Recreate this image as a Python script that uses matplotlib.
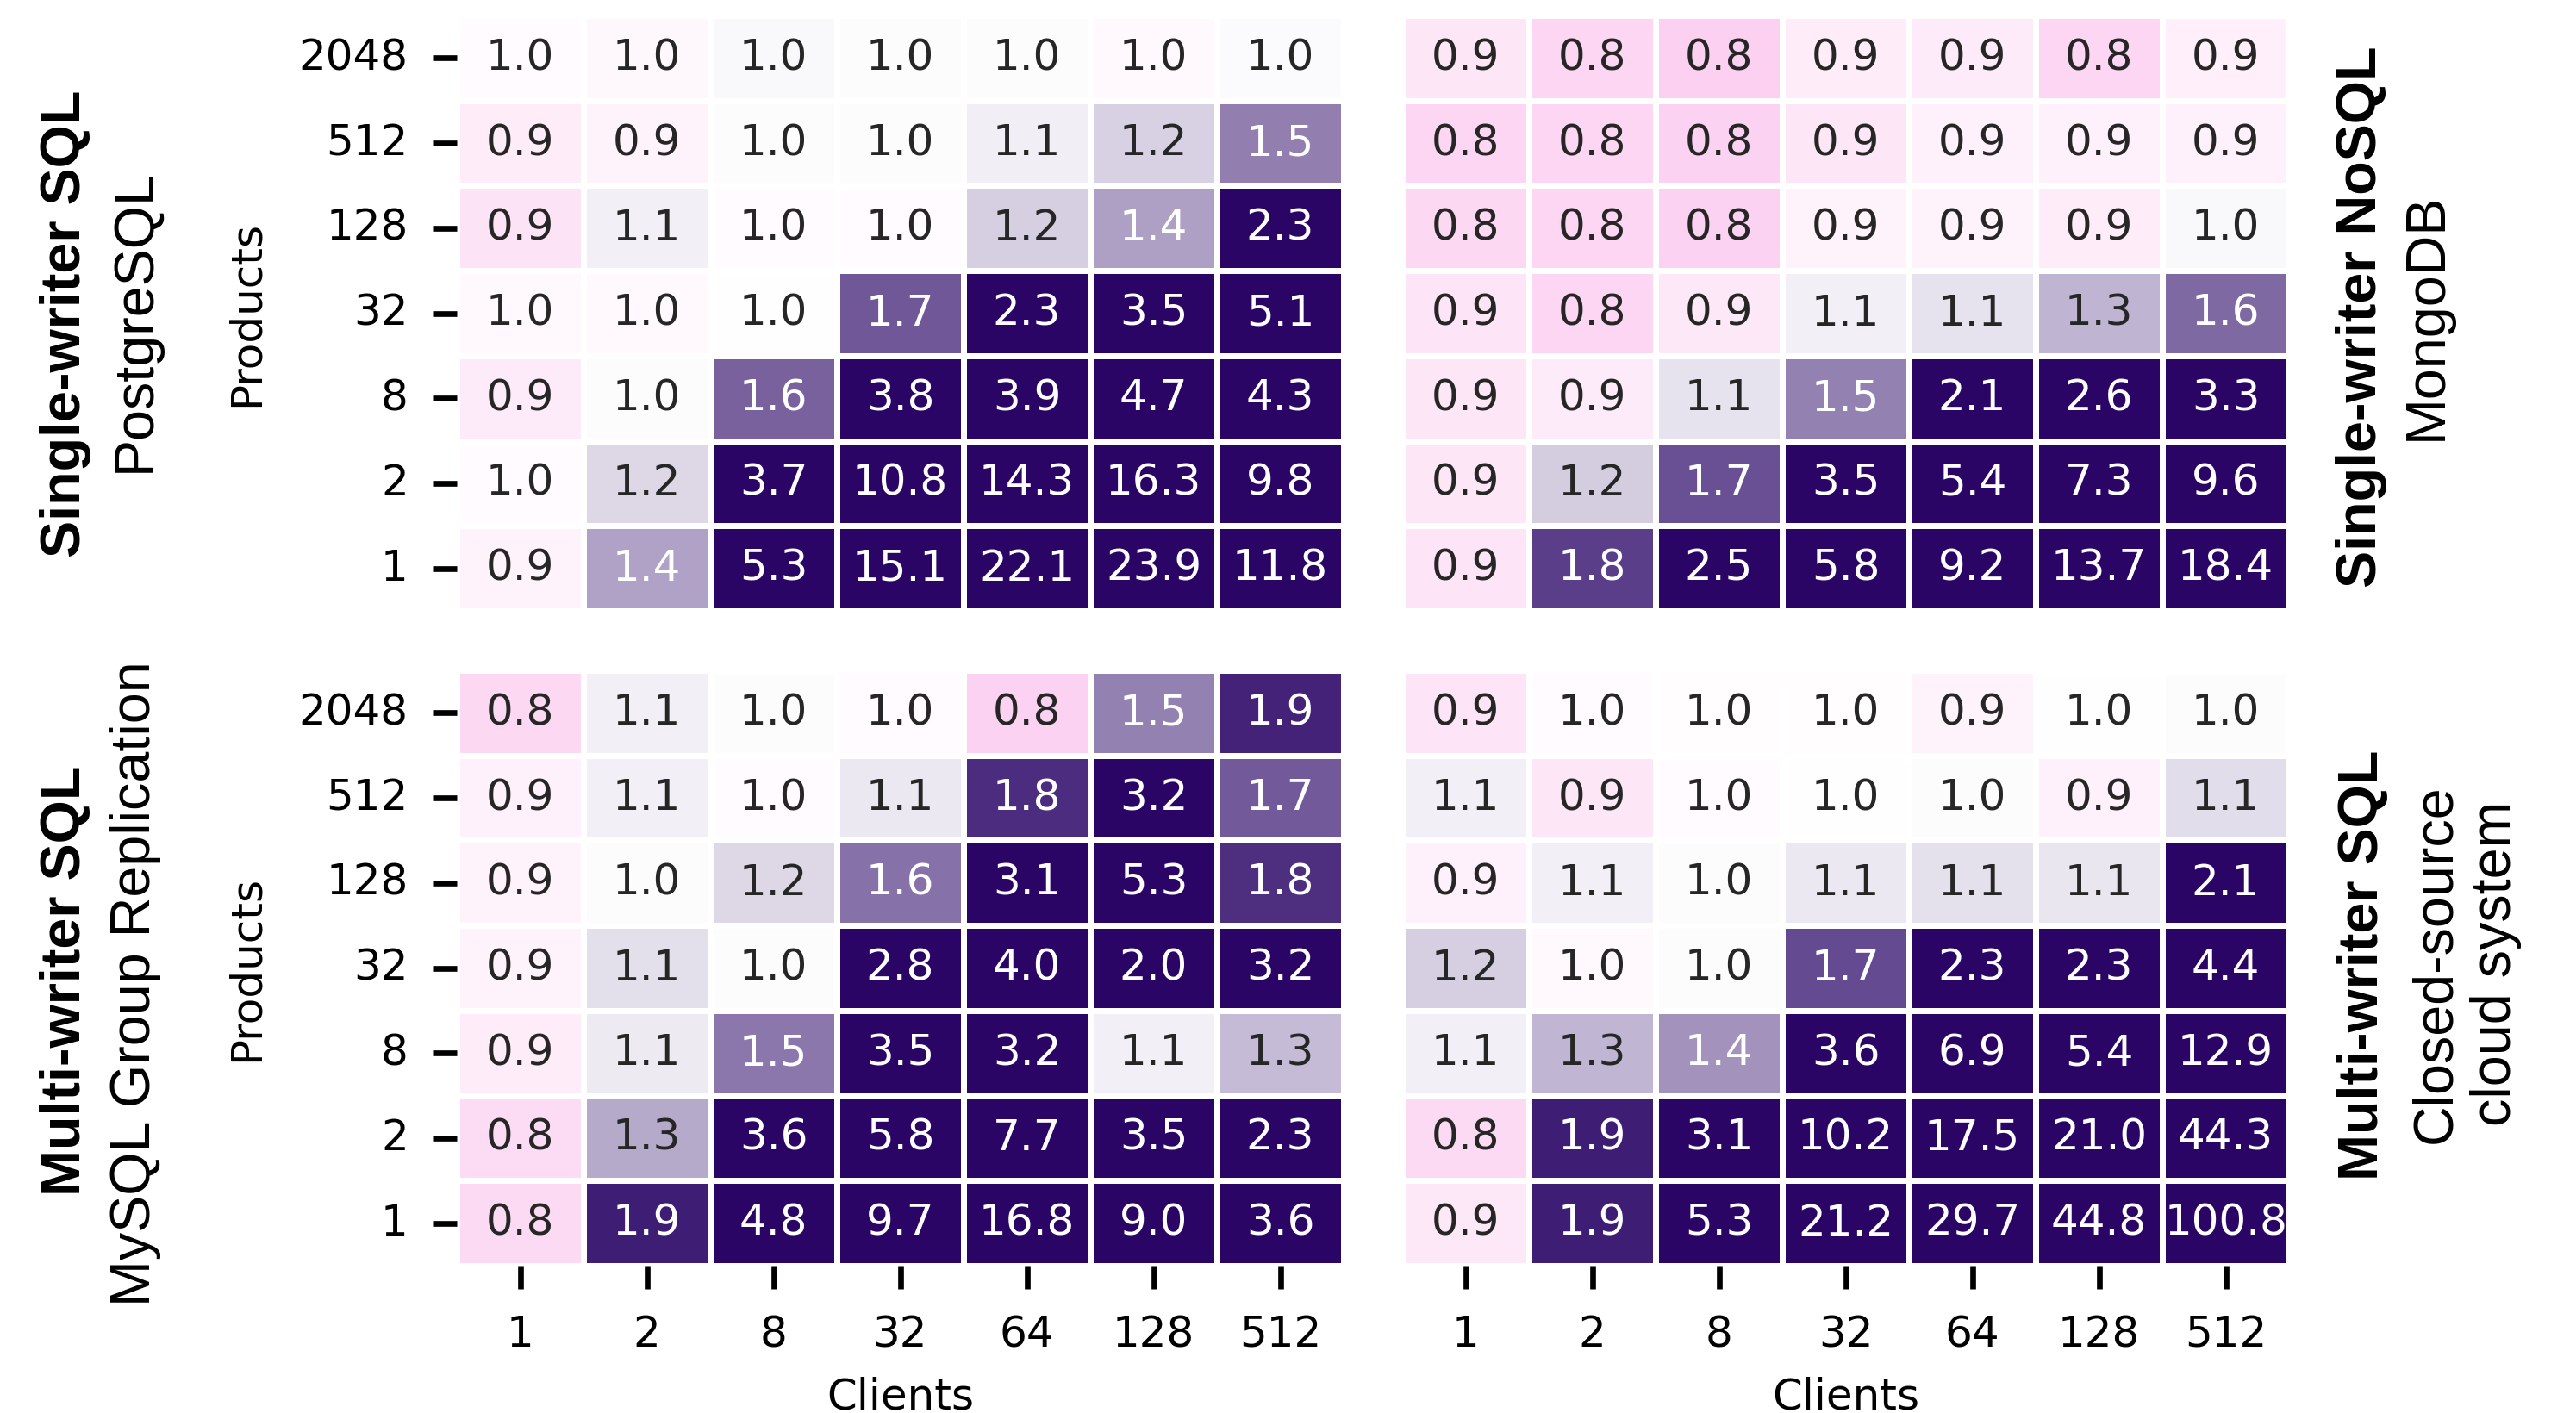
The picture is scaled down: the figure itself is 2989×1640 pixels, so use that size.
import numpy as np
import matplotlib
matplotlib.use("Agg")
import matplotlib.pyplot as plt
import seaborn as sns
from matplotlib.colors import LinearSegmentedColormap, TwoSlopeNorm

# axis categories
clients = [1, 2, 8, 32, 64, 128, 512]
products = [2048, 512, 128, 32, 8, 2, 1]   # top row first

# speedup values, rows = products (top to bottom), cols = clients
# (second decimal estimated from the cell tint)
postgres = [
    [0.98, 0.96, 1.03, 1.01, 1.01, 0.97, 1.02],
    [0.91, 0.94, 1.01, 1.01, 1.07, 1.18, 1.51],
    [0.86, 1.06, 0.98, 0.98, 1.19, 1.38, 2.3],
    [0.97, 0.97, 1.0, 1.67, 2.3, 3.5, 5.1],
    [0.9, 1.01, 1.63, 3.8, 3.9, 4.7, 4.3],
    [0.98, 1.16, 3.7, 10.8, 14.3, 16.3, 9.8],
    [0.94, 1.37, 5.3, 15.1, 22.1, 23.9, 11.8],
]
mongodb = [
    [0.88, 0.8, 0.77, 0.91, 0.9, 0.8, 0.92],
    [0.8, 0.8, 0.78, 0.88, 0.93, 0.93, 0.93],
    [0.81, 0.8, 0.78, 0.94, 0.94, 0.91, 1.03],
    [0.87, 0.8, 0.89, 1.06, 1.11, 1.3, 1.6],
    [0.88, 0.9, 1.11, 1.5, 2.1, 2.6, 3.3],
    [0.88, 1.2, 1.7, 3.5, 5.4, 7.3, 9.6],
    [0.87, 1.77, 2.5, 5.8, 9.2, 13.7, 18.4],
]
mysql_gr = [
    [0.81, 1.06, 1.01, 0.98, 0.78, 1.5, 1.88],
    [0.93, 1.06, 0.98, 1.09, 1.84, 3.2, 1.66],
    [0.94, 1.01, 1.16, 1.57, 3.1, 5.3, 1.83],
    [0.94, 1.13, 1.01, 2.8, 4.0, 2.0, 3.2],
    [0.91, 1.08, 1.54, 3.5, 3.2, 1.06, 1.27],
    [0.83, 1.34, 3.6, 5.8, 7.7, 3.5, 2.3],
    [0.82, 1.9, 4.8, 9.7, 16.8, 9.0, 3.6],
]
cloud = [
    [0.87, 0.98, 0.99, 0.99, 0.94, 1.0, 1.01],
    [1.06, 0.88, 0.98, 1.0, 1.01, 0.93, 1.14],
    [0.93, 1.06, 1.01, 1.09, 1.12, 1.1, 2.1],
    [1.19, 0.97, 1.01, 1.72, 2.3, 2.3, 4.4],
    [1.06, 1.29, 1.43, 3.6, 6.9, 5.4, 12.9],
    [0.82, 1.9, 3.1, 10.2, 17.5, 21.0, 44.3],
    [0.89, 1.9, 5.3, 21.2, 29.7, 44.8, 100.8],
]

cmap = LinearSegmentedColormap.from_list("pink_white_purple", ["#f799df", "#ffffff", "#2a0566"])

fig = plt.figure(figsize=(2989 / 300, 1640 / 300), dpi=300)

W, H = 2989, 1640
x_left, x_right, pw = 530 / W, 1627 / W, 1029 / W
y_top, y_bot, ph = 1 - 709 / H, 1 - 1469 / H, 691 / H

panels = [
    (postgres, x_left, y_top, True, False),
    (mongodb, x_right, y_top, False, False),
    (mysql_gr, x_left, y_bot, True, True),
    (cloud, x_right, y_bot, False, True),
]

for data, x0, y0, show_y, show_x in panels:
    ax = fig.add_axes([x0, y0, pw, ph])
    sns.heatmap(np.array(data), ax=ax, cmap=cmap,
                norm=TwoSlopeNorm(vmin=0.5, vcenter=1.0, vmax=2.0),
                annot=True, fmt=".1f", annot_kws={"size": 12},
                linewidths=1.3, linecolor="white", cbar=False,
                xticklabels=clients, yticklabels=products)
    ax.tick_params(length=6.5, width=1.6, pad=7, labelsize=12)
    ax.set_yticklabels(products, rotation=0)
    ax.set_xticklabels(clients, rotation=0)
    if not show_y:
        ax.tick_params(axis="y", left=False, labelleft=False)
    if not show_x:
        ax.tick_params(axis="x", bottom=False, labelbottom=False)

# axis titles
for yc in (y_top + ph / 2, y_bot + ph / 2):
    fig.text(286 / W, yc, "Products", rotation=90, ha="center", va="center", fontsize=12)
for xc in (x_left + pw / 2, x_right + pw / 2):
    fig.text(xc, 0.003, "Clients", ha="center", va="baseline", fontsize=12)

# system group labels
lab = dict(rotation=90, ha="center", va="center", fontsize=15.5, family="Liberation Sans")
fig.text(76 / W, 0.771, "Single-writer SQL", fontweight="bold", **lab)
fig.text(157 / W, 0.773, "PostgreSQL", **lab)
fig.text(76 / W, 0.306, "Multi-writer SQL", fontweight="bold", **lab)
fig.text(157 / W, 0.304, "MySQL Group Replication", **lab)
fig.text(2740 / W, 0.776, "Single-writer NoSQL", fontweight="bold", **lab)
fig.text(2816 / W, 0.776, "MongoDB", **lab)
fig.text(2742 / W, 0.317, "Multi-writer SQL", fontweight="bold", **lab)
fig.text(2861 / W, 0.318, "Closed-source\ncloud system", multialignment="center", **lab)

fig.savefig("out.png", dpi=300)
